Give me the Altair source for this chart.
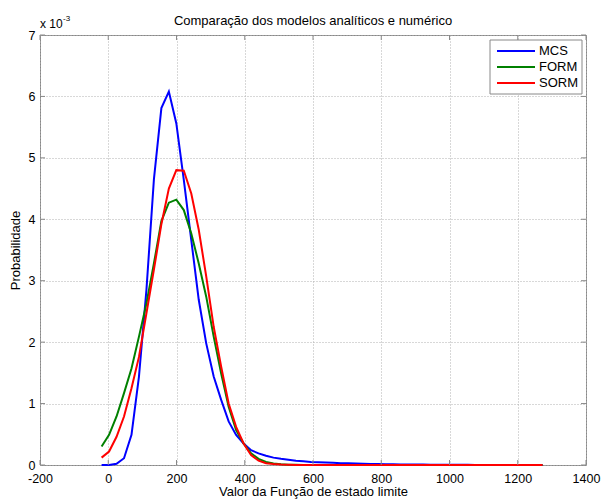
import altair as alt
import pandas as pd

series_names = ["MCS", "FORM", "SORM"]
series_colors = ["#0000ff", "#008000", "#ff0000"]

x_vals = [-19.5, 2.4, 24.3, 46.2, 68.1, 90.0, 111.9, 133.8, 155.7, 177.6,
          199.5, 221.4, 243.3, 265.2, 287.1, 309.0, 330.9, 352.8, 374.7, 396.6,
          418.5, 440.4, 462.3, 484.2, 506.1, 528.0, 549.9, 571.8, 593.7, 615.6,
          637.5, 659.4, 681.3, 703.2, 725.1, 747.0, 768.9, 790.8, 812.7, 834.6,
          856.5, 878.4, 900.3, 922.2, 944.1, 966.0, 987.9, 1009.8, 1031.7, 1053.6,
          1075.5, 1097.4, 1119.3, 1141.2, 1163.1, 1185.0, 1206.9, 1228.8, 1250.7, 1272.6]

mcs = [0.0, 0.0, 0.02, 0.11, 0.49, 1.44, 2.85, 4.65, 5.81, 6.08,
       5.56, 4.64, 3.66, 2.69, 1.98, 1.44, 1.06, 0.71, 0.49, 0.35,
       0.24, 0.19, 0.15, 0.12, 0.10, 0.085, 0.07, 0.06, 0.05, 0.045,
       0.04, 0.035, 0.03, 0.027, 0.024, 0.021, 0.018, 0.015, 0.013, 0.011,
       0.01, 0.009, 0.008, 0.007, 0.006, 0.005, 0.004, 0.004, 0.003, 0.003,
       0.002, 0.002, 0.002, 0.001, 0.001, 0.001, 0.001, 0.001, 0.0, 0.001]

form = [0.30, 0.49, 0.79, 1.17, 1.57, 2.09, 2.63, 3.28, 3.97, 4.27,
        4.32, 4.15, 3.77, 3.28, 2.74, 2.09, 1.49, 0.95, 0.57, 0.35,
        0.19, 0.10, 0.05, 0.025, 0.012, 0.006, 0.003, 0.0, 0.0, 0.0,
        0.0, 0.0, 0.0, 0.0, 0.0, 0.0, 0.0, 0.0, 0.0, 0.0,
        0.0, 0.0, 0.0, 0.0, 0.0, 0.0, 0.0, 0.0, 0.0, 0.0,
        0.0, 0.0, 0.0, 0.0, 0.0, 0.0, 0.0, 0.0, 0.0, 0.0]

sorm = [0.12, 0.22, 0.46, 0.79, 1.25, 1.76, 2.47, 3.18, 3.92, 4.50,
        4.80, 4.79, 4.42, 3.83, 3.07, 2.25, 1.60, 1.00, 0.62, 0.35,
        0.16, 0.07, 0.03, 0.015, 0.007, 0.003, 0.0, 0.0, 0.0, 0.0,
        0.0, 0.0, 0.0, 0.0, 0.0, 0.0, 0.0, 0.0, 0.0, 0.0,
        0.0, 0.0, 0.0, 0.0, 0.0, 0.0, 0.0, 0.0, 0.0, 0.0,
        0.0, 0.0, 0.0, 0.0, 0.0, 0.0, 0.0, 0.0, 0.0, 0.0]

x_ticks = [-200, 0, 200, 400, 600, 800, 1000, 1200, 1400]
y_ticks = [0, 1, 2, 3, 4, 5, 6, 7]

title_text = "Comparação dos modelos analíticos e numérico"
x_title = "Valor da Função de estado limite"
y_title = "Probabilidade"

rows = []
for name, vals in zip(series_names, [mcs, form, sorm]):
    for i, (xv, yv) in enumerate(zip(x_vals, vals)):
        rows.append({"serie": name, "x": xv, "y": yv, "ordem": i})
df = pd.DataFrame(rows)

W, H = 546, 430
FONT = "Liberation Sans"
xs = alt.Scale(domain=[-200, 1400], nice=False, zero=False)
ys = alt.Scale(domain=[0, 7], nice=False, zero=False)
cs = alt.Scale(domain=series_names, range=series_colors)

lines = alt.Chart(df).mark_line(strokeWidth=2).encode(
    x=alt.X("x:Q", scale=xs,
            axis=alt.Axis(values=x_ticks, title=x_title, grid=True,
                          gridDash=[1, 2], gridColor="#b0b0b0", ticks=False,
                          domain=False, labelPadding=7, titlePadding=1,
                          labelFlush=False, labelExpr="datum.value + ''",
                          labelFontSize=12.5, titleFontSize=13,
                          titleFontWeight="normal")),
    y=alt.Y("y:Q", scale=ys,
            axis=alt.Axis(values=y_ticks, title=y_title, grid=True,
                          gridDash=[1, 2], gridColor="#b0b0b0", ticks=False,
                          domain=False, labelPadding=5, titlePadding=6,
                          labelFlush=False, labelExpr="datum.value + ''",
                          labelFontSize=12.5, titleFontSize=13,
                          titleFontWeight="normal")),
    color=alt.Color("serie:N", scale=cs, sort=series_names, legend=None),
    order=alt.Order("ordem:Q"),
)

tick_df = pd.DataFrame({"t": x_ticks})
ytick_df = pd.DataFrame({"t": y_ticks})
tick_color = "#888888"
xt_bottom = alt.Chart(tick_df).mark_rule(color=tick_color).encode(
    x=alt.X("t:Q", scale=xs), y=alt.value(H), y2=alt.value(H - 5))
xt_top = alt.Chart(tick_df).mark_rule(color=tick_color).encode(
    x=alt.X("t:Q", scale=xs), y=alt.value(0), y2=alt.value(5))
yt_left = alt.Chart(ytick_df).mark_rule(color=tick_color).encode(
    y=alt.Y("t:Q", scale=ys), x=alt.value(0), x2=alt.value(5))
yt_right = alt.Chart(ytick_df).mark_rule(color=tick_color).encode(
    y=alt.Y("t:Q", scale=ys), x=alt.value(W - 5), x2=alt.value(W))

one = pd.DataFrame({"a": [0]})
title_mark = alt.Chart(one).mark_text(align="center", baseline="alphabetic",
                                      fontSize=13, font=FONT, color="black").encode(
    x=alt.value(W / 2), y=alt.value(-10), text=alt.value(title_text))
exp_base = alt.Chart(one).mark_text(align="left", baseline="alphabetic",
                                    fontSize=12, font=FONT, color="black").encode(
    x=alt.value(0), y=alt.value(-7), text=alt.value("x 10"))
exp_sup = alt.Chart(one).mark_text(align="left", baseline="alphabetic",
                                   fontSize=8, font=FONT, color="black").encode(
    x=alt.value(23), y=alt.value(-14), text=alt.value("-3"))

# legend (box, line samples, labels)
leg_df = pd.DataFrame({"serie": series_names, "row": [0, 1, 2]})
leg_box = alt.Chart(one).mark_rect(fill="white", stroke="#888888", strokeWidth=1).encode(
    x=alt.value(450), x2=alt.value(542), y=alt.value(5), y2=alt.value(59))
leg_base = alt.Chart(leg_df).transform_calculate(py="16 + datum.row * 16")
leg_lines = leg_base.mark_rule(strokeWidth=2).encode(
    x=alt.value(457), x2=alt.value(495),
    y=alt.Y("py:Q", scale=None),
    color=alt.Color("serie:N", scale=cs, legend=None))
leg_text = leg_base.mark_text(align="left", baseline="middle", fontSize=13,
                              font=FONT, color="black").encode(
    x=alt.value(499), y=alt.Y("py:Q", scale=None), text="serie:N")

chart = alt.layer(lines, xt_bottom, xt_top, yt_left, yt_right, title_mark,
                  exp_base, exp_sup, leg_box, leg_lines, leg_text).properties(
    width=W, height=H,
    padding={"left": 40, "top": 35, "right": 15, "bottom": 34},
    autosize=alt.AutoSizeParams(type="none"),
).configure(background="white").configure_view(
    stroke="#888888", strokeWidth=1
).configure_axis(
    labelFont=FONT, labelFontSize=12.5, labelColor="black",
    titleFont=FONT, titleFontSize=13, titleColor="black", titleFontWeight="normal",
)

chart.save("out.html", embed_options={"renderer": "svg", "actions": False})
